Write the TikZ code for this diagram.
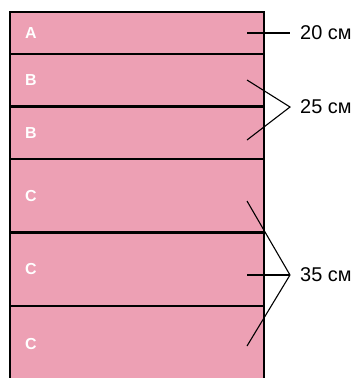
\documentclass[tikz,border=0pt]{standalone}
\usepackage{fontspec}
\setmainfont{Liberation Sans}
\usepackage{xcolor}
\usetikzlibrary{positioning}
\definecolor{layerpink}{RGB}{237,160,180}
\tikzset{
  layer/.style={rectangle, draw=black, fill=layerpink, line width=2.2bp,
                minimum width=254bp, inner sep=0pt, outer sep=0pt},
  tag/.style={anchor=west, text=white, inner sep=0pt,
              font=\fontsize{16}{19}\selectfont\bfseries},
  size/.style={anchor=west, inner sep=0pt, font=\fontsize{20}{24}\selectfont},
  pointer/.style={draw=black, line width=1.1bp},
}

\begin{document}
\begin{tikzpicture}[x=1bp, y=-1bp]
  \useasboundingbox (0,0) rectangle (354,378);
  \clip (0,0) rectangle (354,378);

  % layers, top to bottom
  \node[layer, minimum height=42bp, anchor=north west] (lA) at (10,12) {};
  \node[layer, minimum height=52.5bp, below=0pt of lA]  (lB1) {};
  \node[layer, minimum height=52.5bp, below=0pt of lB1] (lB2) {};
  \node[layer, minimum height=73.5bp, below=0pt of lB2] (lC1) {};
  \node[layer, minimum height=73.5bp, below=0pt of lC1] (lC2) {};
  \node[layer, minimum height=80bp,   below=0pt of lC2] (lC3) {};

  \node[tag] (tA)  at ([xshift=15bp]lA.west)  {A};
  \node[tag] (tB1) at ([xshift=15bp]lB1.west) {B};
  \node[tag] (tB2) at ([xshift=15bp]lB2.west) {B};
  \node[tag] (tC1) at ([xshift=15bp]lC1.west) {C};
  \node[tag] (tC2) at ([xshift=15bp]lC2.west) {C};
  \node[tag] (tC3) at ([xshift=15bp]lC3.north west |- 0,344) {C};

  % size labels
  \node[size] (s20) at (300,33)  {20 см};
  \node[size] (s25) at (300,107) {25 см};
  \node[size] (s35) at (300,275) {35 см};

  \coordinate (k20) at (290,33);
  \coordinate (k25) at (290,107);
  \coordinate (k35) at (290,275);

  \coordinate (pA)  at (247,33);
  \coordinate (pB1) at (247,80);
  \coordinate (pB2) at (247,140);
  \coordinate (pC1) at (247,201);
  \coordinate (pC2) at (247,275);
  \coordinate (pC3) at (247,346);

  \draw[pointer] (pA) -- (k20);
  \draw[pointer] (pB1) -- (k25) -- (pB2);
  \draw[pointer] (pC1) -- (k35) -- (pC3);
  \draw[pointer] (pC2) -- (k35);
\end{tikzpicture}
\end{document}
